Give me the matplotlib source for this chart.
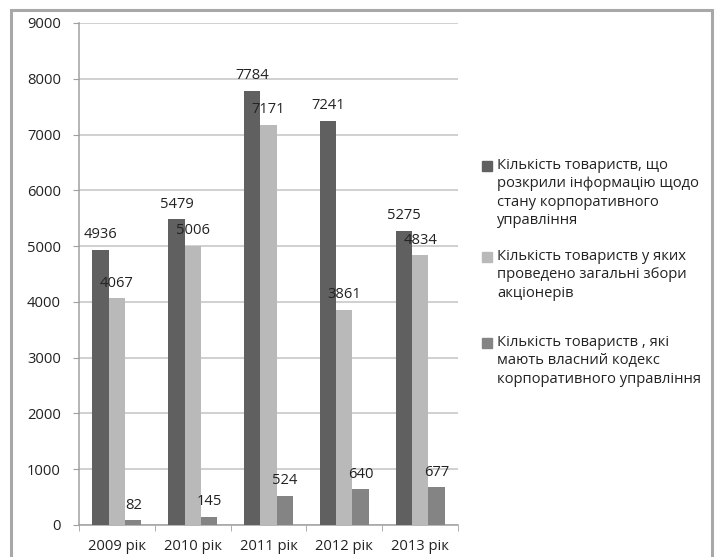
import numpy as np
import matplotlib
matplotlib.use('Agg')
import matplotlib.pyplot as plt
from matplotlib.patches import Rectangle

plt.rcParams['font.family'] = ['Open Sans', 'DejaVu Sans']

years = ['2009 рік', '2010 рік', '2011 рік', '2012 рік', '2013 рік']
disclosed = [4936, 5479, 7784, 7241, 5275]
meetings = [4067, 5006, 7171, 3861, 4834]
own_code = [82, 145, 524, 640, 677]
series_names = ['Кількість товариств, що\nрозкрили інформацію щодо\nстану корпоративного\nуправління',
                'Кількість товариств у яких\nпроведено загальні збори\nакціонерів',
                'Кількість товариств , які\nмають власний кодекс\nкорпоративного управління']
colors = ['#606060', '#b9b9b9', '#848484']

fig = plt.figure(figsize=(7.17, 5.57), dpi=100)
ax = fig.add_axes([79/717, 1-525/557, (458-79)/717, (525-23)/557])

# outer chart frame
fig.patches.append(Rectangle((11/717, -0.05), (712-11)/717, 1.05-10/557,
                             transform=fig.transFigure, fill=False,
                             edgecolor='#a8a8a8', linewidth=2.2))

x = np.arange(len(years))
w = 0.215
txt = '#222222'
fs = 10.6
for i, (vals, c) in enumerate(zip([disclosed, meetings, own_code], colors)):
    bars = ax.bar(x + (i-1)*w, vals, w, color=c, zorder=3)
    for b, v in zip(bars, vals):
        ax.annotate(str(v), (b.get_x()+b.get_width()/2, v), xytext=(0, 5.5),
                    textcoords='offset points', ha='center', va='bottom',
                    fontsize=fs, color=txt, zorder=4)

ax.set_xlim(-0.5, len(years)-0.5)
ax.set_ylim(0, 9000)
ax.set_yticks(np.arange(0, 9001, 1000))
ax.yaxis.grid(True, color='#c4c4c4', linewidth=1.1, zorder=0)
ax.set_xticks(x)
ax.set_xticklabels(years)
ax.set_xticks(np.arange(-0.5, len(years)), minor=True)
ax.tick_params(axis='x', which='major', length=0, pad=10, labelsize=fs, labelcolor=txt)
ax.tick_params(axis='x', which='minor', length=4, color='#a0a0a0')
ax.tick_params(axis='y', length=4, color='#a0a0a0', pad=9, labelsize=fs, labelcolor=txt)
for s in ['top', 'right']:
    ax.spines[s].set_visible(False)
for s in ['left', 'bottom']:
    ax.spines[s].set_color('#a0a0a0')
    ax.spines[s].set_linewidth(1.1)

# legend, drawn like the spreadsheet one
legend_tops = [166, 257, 343]
for name, c, top in zip(series_names, colors, legend_tops):
    fig.patches.append(Rectangle((482/717, 1-(top+5)/557), 10/717, 10/557,
                                 transform=fig.transFigure, color=c))
    fig.text(497/717, 1-(top-8)/557, name, ha='left', va='top', fontsize=fs,
             color=txt, linespacing=1.3)

fig.savefig('out.png', dpi=100)
